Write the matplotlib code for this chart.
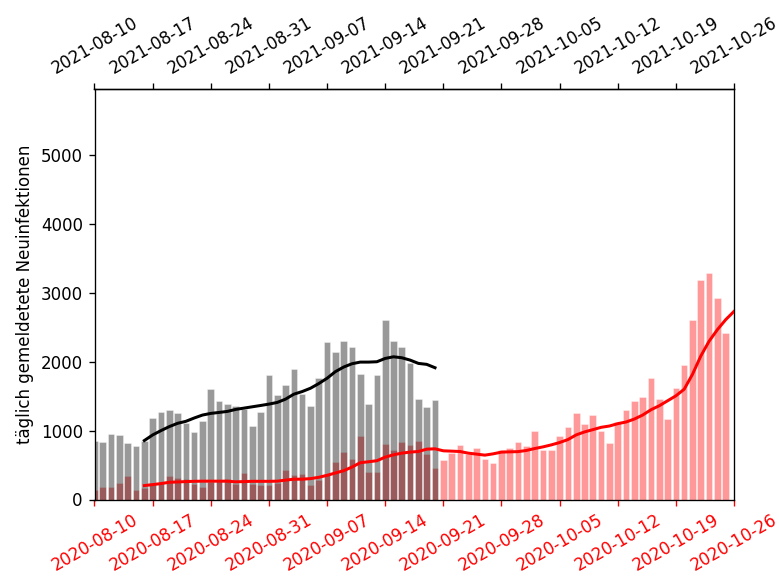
import pandas as pd
import matplotlib
matplotlib.use('Agg')
from matplotlib import pyplot as plt
import matplotlib.dates as mdates

# gemeldete Neuinfektionen pro Tag, 2020 ab 10.08., 2021 ab 10.08.
faelle_2020 = [144, 183, 183, 245, 337, 144, 168, 245, 240, 337, 317, 293, 226, 183, 250, 285,
               303, 221, 385, 226, 207, 207,
               245, 423, 361, 375, 207, 288, 375, 543, 683, 582, 918, 399, 399, 808, 712,
               841, 798, 856, 659, 457, 567, 673, 798, 663, 750, 582, 534, 721, 750, 832,
               784, 1000, 712, 721, 918, 1058, 1255, 1096, 1231, 1000, 817, 1130, 1305,
               1423, 1495, 1769, 1457, 1168, 1620, 1952, 2611, 3188, 3293, 2923, 2423]
faelle_2021 = [856, 837, 952, 937, 817, 784, 856, 1178, 1274, 1298, 1250, 1106, 976, 1135,
               1601, 1423, 1385, 1361, 1312, 1072, 1264, 1808,
               1519, 1659, 1894, 1538, 1361, 1760, 2284, 2144, 2308, 2221, 1817, 1385, 1808,
               2601, 2308, 2207, 1986, 1466, 1337, 1447]

# 7-Tage-Mittel, jeweils ab 16.08.
mittel_2020 = [202, 216, 231, 250, 255, 260, 264, 266, 266, 266, 266, 257, 260, 264, 264, 264,
               266, 281, 295, 295, 303, 322, 351, 385, 418, 471, 534, 548, 563, 615, 649,
               673, 688, 697, 731, 736, 707, 702, 697, 673, 659, 644, 663, 688, 692, 695,
               712, 740, 764, 793, 827, 870, 938, 981, 1014, 1048, 1067, 1101, 1125, 1168,
               1226, 1303, 1361, 1433, 1505, 1601, 1817, 2082, 2298, 2466, 2611, 2731]
mittel_2021 = [856, 937, 1000, 1058, 1106, 1135, 1183, 1226, 1250, 1264, 1279, 1308, 1327,
               1346, 1365, 1385,
               1409, 1457, 1529, 1567, 1615, 1683, 1760, 1856, 1923, 1971, 1995, 1995, 2000,
               2048, 2072, 2058, 2024, 1976, 1962, 1913]

tage_2020 = pd.date_range('2020-08-10', periods=len(faelle_2020), freq='D')
tage_2021 = pd.date_range('2021-08-10', periods=len(faelle_2021), freq='D')
mtage_2020 = pd.date_range('2020-08-16', periods=len(mittel_2020), freq='D')
mtage_2021 = pd.date_range('2021-08-16', periods=len(mittel_2021), freq='D')

ticks_2020 = pd.date_range('2020-08-10', '2020-10-26', freq='7D')
ticks_2021 = pd.date_range('2021-08-10', '2021-10-26', freq='7D')

# 2021 wird auf die gleichen Kalendertage von 2020 gelegt
versatz = pd.Timedelta(days=365)

fig, ax = plt.subplots(figsize=(779 / 120, 579 / 120), dpi=120)
fig.subplots_adjust(left=94.5 / 779, right=734 / 779, bottom=1 - 499.5 / 579, top=1 - 89 / 579)

ax.bar(tage_2020, faelle_2020, width=0.8, color='red', alpha=0.4,
       edgecolor='white', linewidth=0.5, zorder=1)
ax.bar(tage_2021 - versatz, faelle_2021, width=0.8, color='black', alpha=0.4,
       edgecolor='white', linewidth=0.5, zorder=2)
ax.plot(mtage_2021 - versatz, mittel_2021, color='black', lw=1.8, zorder=3)
ax.plot(mtage_2020, mittel_2020, color='red', lw=1.8, zorder=4)

ax.set_xlim(pd.Timestamp('2020-08-10'), pd.Timestamp('2020-10-26'))
ax.set_ylim(0, 5960)
ax.set_yticks([0, 1000, 2000, 3000, 4000, 5000])
ax.set_ylabel('täglich gemeldetete Neuinfektionen')

ax.set_xticks(ticks_2020)
ax.xaxis.set_major_formatter(mdates.DateFormatter('%Y-%m-%d'))
ax.tick_params(axis='x', colors='red', labelrotation=30)

oben = ax.secondary_xaxis('top', functions=(lambda x: x + 365, lambda x: x - 365))
oben.set_xticks(mdates.date2num(ticks_2021))
oben.xaxis.set_major_formatter(mdates.DateFormatter('%Y-%m-%d'))
oben.tick_params(axis='x', labelrotation=30)

plt.savefig('out.png', dpi=120)
plt.close()
